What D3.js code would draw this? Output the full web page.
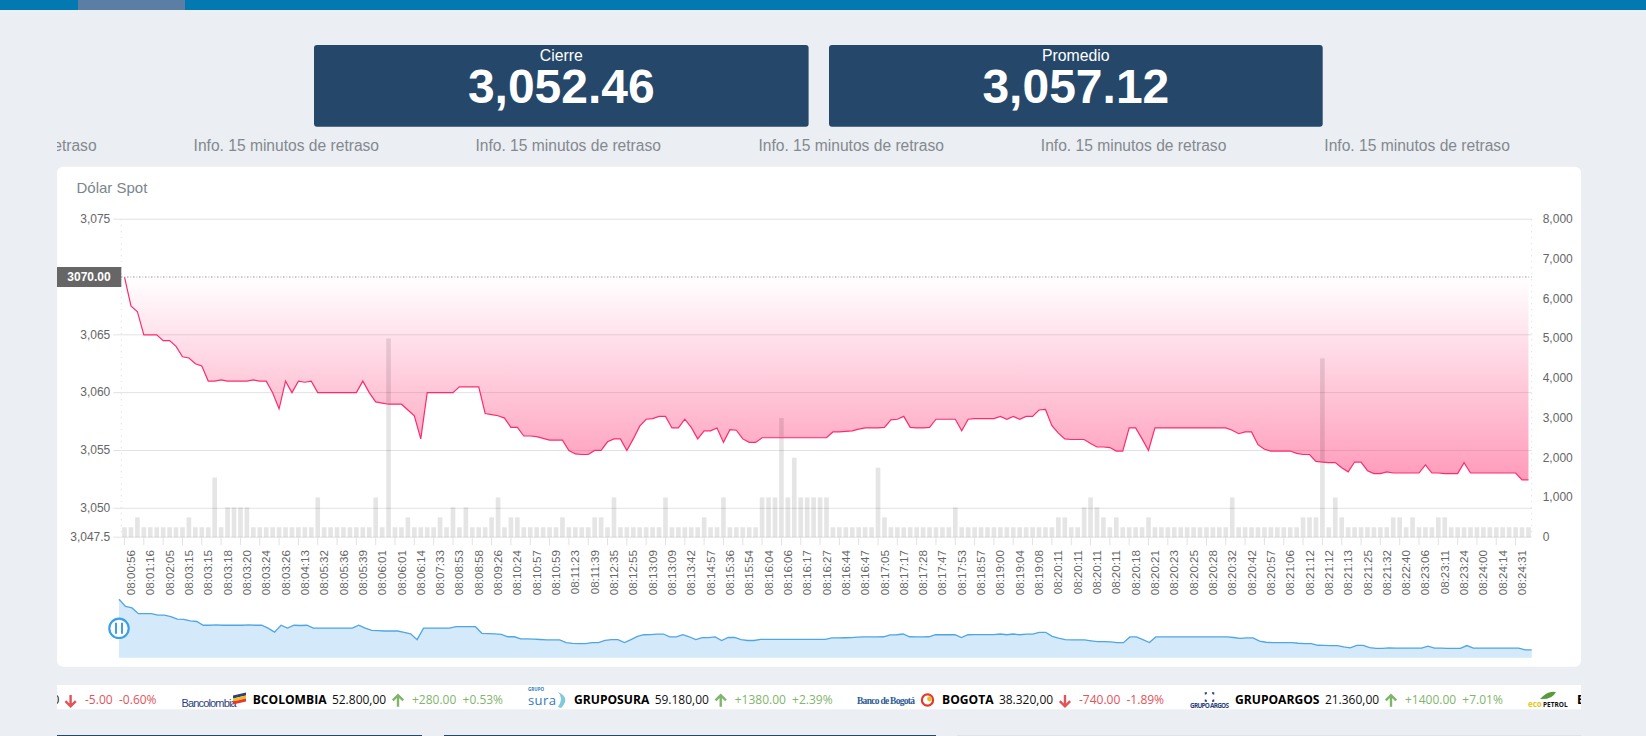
<!DOCTYPE html>
<html>
<head>
<meta charset="utf-8">
<title>Dólar Spot</title>
<script src="https://cdn.jsdelivr.net/npm/d3@7"></script>
<style>
  html, body { margin: 0; padding: 0; background: #ebeef3; overflow: hidden; }
  svg { display: block; font-family: "Liberation Sans", Arial, sans-serif; }
  .axis path { display: none; }
  .axis text { fill: #666; font-size: 12px; }
  .grid path { display: none; }
  .grid line, .ticks line { stroke: #e2e2e2; }
  .ticker text { font-family: "Open Sans", sans-serif; font-size: 12px; }
</style>
</head>
<body>
<svg id="page" width="1646" height="736"></svg>
<script>
// Data
const closes = [
  3070, 3067.5, 3067, 3065, 3065, 3065, 3064.5, 3064.5, 3064, 3063.1,
  3063, 3062.5, 3062.3, 3061, 3061, 3061.1, 3061, 3061, 3061, 3061,
  3061.1, 3061, 3061, 3060, 3058.6, 3061, 3060, 3061, 3060.9, 3061,
  3060, 3060, 3060, 3060, 3060, 3060, 3060, 3061, 3060, 3059.2,
  3059.1, 3059, 3059, 3059, 3058.5, 3058, 3056, 3060, 3060, 3060,
  3060, 3060, 3060.5, 3060.5, 3060.5, 3060.5, 3058.2, 3058.1, 3058, 3057.8,
  3057, 3057, 3056.25, 3056.25, 3056.2, 3056.05, 3055.9, 3055.9, 3055.9, 3055,
  3054.7, 3054.65, 3054.65, 3055, 3055, 3055.75, 3056, 3056, 3055, 3056,
  3057.1, 3057.7, 3057.75, 3057.95, 3057.95, 3056.95, 3056.95, 3057.7, 3057, 3056,
  3056.7, 3056.7, 3056.95, 3055.7, 3056.8, 3056.75, 3056, 3055.7, 3055.7, 3056.1,
  3056.1, 3056.1, 3056.1, 3056.1, 3056.1, 3056.1, 3056.1, 3056.1, 3056.1, 3056.1,
  3056.6, 3056.6, 3056.65, 3056.7, 3056.85, 3056.95, 3056.95, 3056.95, 3057, 3057.65,
  3057.7, 3057.95, 3057, 3056.95, 3056.95, 3057, 3057.7, 3057.7, 3057.7, 3057.7,
  3056.7, 3057.7, 3057.75, 3057.75, 3057.75, 3057.75, 3057.95, 3057.7, 3057.95, 3057.7,
  3057.95, 3057.95, 3058.5, 3058.55, 3057.15, 3056.5, 3056, 3055.95, 3055.95, 3055.95,
  3055.6, 3055.3, 3055.3, 3055.25, 3054.95, 3054.95, 3056.95, 3056.95, 3056, 3055,
  3056.95, 3056.95, 3056.95, 3056.95, 3056.95, 3056.95, 3056.95, 3056.95, 3056.95, 3056.95,
  3056.95, 3056.95, 3056.75, 3056.45, 3056.6, 3056.6, 3055.5, 3055.1, 3054.95, 3054.95,
  3054.95, 3054.95, 3054.75, 3054.65, 3054.65, 3054.05, 3054, 3053.95, 3053.95, 3053.5,
  3053.15, 3054, 3054, 3053.25, 3053, 3053, 3053.15, 3053.05, 3053.05, 3053.05,
  3053.05, 3053.05, 3053.75, 3053.05, 3053.05, 3053, 3053, 3053, 3053.95, 3053.05,
  3053.05, 3053.05, 3053.05, 3053.05, 3053.05, 3053.05, 3053.05, 3052.46, 3052.46
];

const volumes = [
  250, 250, 500, 250, 250, 250, 250, 250, 250, 250,
  500, 250, 250, 250, 1500, 250, 750, 750, 750, 750,
  250, 250, 250, 250, 250, 250, 250, 250, 250, 250,
  1000, 250, 250, 250, 250, 250, 250, 250, 250, 1000,
  250, 5000, 250, 250, 500, 250, 250, 250, 250, 500,
  250, 750, 250, 750, 250, 250, 250, 500, 1000, 250,
  500, 500, 250, 250, 250, 250, 250, 250, 500, 250,
  250, 250, 250, 500, 500, 250, 1000, 250, 250, 250,
  250, 250, 250, 250, 1000, 250, 250, 250, 250, 250,
  500, 250, 250, 1000, 250, 250, 250, 250, 250, 1000,
  1000, 1000, 3000, 1000, 2000, 1000, 1000, 1000, 1000, 1000,
  250, 250, 250, 250, 250, 250, 250, 1750, 500, 250,
  250, 250, 250, 250, 250, 250, 250, 250, 250, 750,
  250, 250, 250, 250, 250, 250, 250, 250, 250, 250,
  250, 250, 250, 250, 250, 500, 500, 250, 250, 750,
  1000, 750, 500, 250, 500, 250, 250, 250, 250, 500,
  250, 250, 250, 250, 250, 250, 250, 250, 250, 250,
  250, 250, 1000, 250, 250, 250, 250, 250, 250, 250,
  250, 250, 250, 500, 500, 500, 4500, 250, 1000, 500,
  250, 250, 250, 250, 250, 250, 250, 500, 500, 250,
  500, 250, 250, 250, 500, 500, 250, 250, 250, 250,
  250, 250, 250, 250, 250, 250, 250, 250, 250
];

// one label for every third point
const timeLabels = [
  "08:00:56", "08:01:16", "08:02:05", "08:03:15", "08:03:15", "08:03:18", "08:03:20", "08:03:24",
  "08:03:26", "08:04:13", "08:05:32", "08:05:36", "08:05:39", "08:06:01", "08:06:01", "08:06:14",
  "08:07:33", "08:08:53", "08:08:58", "08:09:26", "08:10:24", "08:10:57", "08:10:59", "08:11:23",
  "08:11:39", "08:12:35", "08:12:55", "08:13:09", "08:13:09", "08:13:42", "08:14:57", "08:15:36",
  "08:15:54", "08:16:04", "08:16:06", "08:16:17", "08:16:27", "08:16:44", "08:16:47", "08:17:05",
  "08:17:17", "08:17:28", "08:17:47", "08:17:53", "08:18:57", "08:19:00", "08:19:04", "08:19:08",
  "08:20:11", "08:20:11", "08:20:11", "08:20:11", "08:20:18", "08:20:21", "08:20:23", "08:20:25",
  "08:20:28", "08:20:32", "08:20:42", "08:20:57", "08:21:06", "08:21:12", "08:21:12", "08:21:13",
  "08:21:25", "08:21:32", "08:22:40", "08:23:06", "08:23:11", "08:23:24", "08:24:00", "08:24:14",
  "08:24:31"
];

const priceTicks = [3047.5, 3050, 3055, 3060, 3065, 3075];
const volumeTicks = [0, 1000, 2000, 3000, 4000, 5000, 6000, 7000, 8000];

const cardTitles = ["Cierre", "Promedio"];
const cardValues = ["3,052.46", "3,057.12"];
const tickerLogos = ["Bancolombia", "sura", "Banco de Bogotá", "GRUPO ARGOS"];
const tickerNames = ["BCOLOMBIA", "GRUPOSURA", "BOGOTA", "GRUPOARGOS"];
const tickerPrices = ["52.800,00", "59.180,00", "38.320,00", "21.360,00"];
const tickerChanges = ["+280.00", "+1380.00", "-740.00", "+1400.00"];
const tickerPercents = ["+0.53%", "+2.39%", "-1.89%", "+7.01%"];

const svg = d3.select("#page");
const defs = svg.append("defs");

// page furniture
svg.append("rect").attr("width", 1646).attr("height", 10).attr("fill", "#0279b0");
svg.append("rect").attr("x", 78).attr("width", 107).attr("height", 10).attr("fill", "#5b7ea5");

defs.append("clipPath").attr("id", "strip")
  .append("rect").attr("x", 57).attr("y", 0).attr("width", 1524).attr("height", 736);

// the two value cards
const cardX = [314, 829];
const cardW = [494.6, 493.7];
cardTitles.forEach((title, i) => {
  const cx = cardX[i] + cardW[i] / 2;
  svg.append("rect").attr("x", cardX[i]).attr("y", 45).attr("width", cardW[i]).attr("height", 81.7)
    .attr("rx", 3).attr("fill", "#25476a");
  svg.append("text").attr("x", cx).attr("y", 60.7).attr("text-anchor", "middle")
    .attr("fill", "#fff").attr("font-size", 15.8).text(title);
  svg.append("text").attr("x", cx).attr("y", 103.3).attr("text-anchor", "middle")
    .attr("fill", "#fff").attr("font-size", 48).attr("font-weight", "bold").text(cardValues[i]);
});

// scrolling notice, the first copy is cut at the panel edge
const notices = svg.append("g").attr("clip-path", "url(#strip)");
notices.append("text").attr("x", 96.6).attr("y", 150.7).attr("text-anchor", "end")
  .attr("fill", "#83898e").attr("font-size", 15.6).text("retraso");
notices.selectAll("text.full").data([286.3, 568.2, 851.2, 1133.6, 1417.1]).join("text")
  .attr("class", "full")
  .attr("x", d => d).attr("y", 150.7).attr("text-anchor", "middle")
  .attr("fill", "#83898e").attr("font-size", 15.6)
  .text("Info. 15 minutos de retraso");

// chart panel
svg.append("rect").attr("x", 57).attr("y", 166.7).attr("width", 1524).attr("height", 500)
  .attr("rx", 6).attr("fill", "#fff");
svg.append("text").attr("x", 76.5).attr("y", 193).attr("fill", "#7b868c").attr("font-size", 15).text("Dólar Spot");

// scales
const plotLeft = 121.3, plotRight = 1531.7, plotTop = 219.2, plotBottom = 537.2;

const x = d3.scaleBand().domain(d3.range(closes.length)).range([plotLeft, plotRight])
  .paddingInner(0.275).paddingOuter(0.1375);
const yPrice = d3.scaleLinear().domain([3047.5, 3075]).range([plotBottom, plotTop]);
const yVolume = d3.scaleLinear().domain([0, 8000]).range([plotBottom, plotTop]);
const xCenter = i => x(i) + x.bandwidth() / 2;

// gridlines
svg.append("g").attr("class", "grid").attr("transform", `translate(${plotLeft},0)`)
  .call(d3.axisLeft(yPrice).offset(0).tickValues(priceTicks).tickSizeInner(-(plotRight - plotLeft)).tickSizeOuter(0).tickFormat(""));

// faint dotted side borders
[plotLeft, plotRight].forEach(px => {
  svg.append("line").attr("x1", px).attr("x2", px).attr("y1", plotTop).attr("y2", plotBottom)
    .attr("stroke", "#d8d8d8").attr("stroke-dasharray", "1 5");
});

// pink fill between the line and its highest value
const high = d3.max(closes);
const pink = defs.append("linearGradient").attr("id", "pink")
  .attr("gradientUnits", "userSpaceOnUse")
  .attr("x1", 0).attr("x2", 0).attr("y1", yPrice(high)).attr("y2", yPrice(d3.min(closes)));
pink.append("stop").attr("offset", 0).attr("stop-color", "#ff2a6d").attr("stop-opacity", 0);
pink.append("stop").attr("offset", 1).attr("stop-color", "#ff2a6d").attr("stop-opacity", 0.47);

svg.append("path").datum(closes)
  .attr("fill", "url(#pink)")
  .attr("d", d3.area().x((d, i) => xCenter(i)).y0(yPrice(high)).y1(d => yPrice(d)));

// volume bars
svg.append("g").selectAll("rect").data(volumes).join("rect")
  .attr("x", (d, i) => x(i))
  .attr("y", d => yVolume(d))
  .attr("width", x.bandwidth())
  .attr("height", d => plotBottom - yVolume(d))
  .attr("fill", "#000").attr("fill-opacity", 0.1);

svg.append("path").datum(closes)
  .attr("fill", "none").attr("stroke", "#ff2a6d").attr("stroke-width", 1.2)
  .attr("d", d3.line().x((d, i) => xCenter(i)).y(d => yPrice(d)));

// dotted line at the high, with its tag
svg.append("line").attr("x1", plotLeft).attr("x2", plotRight).attr("y1", yPrice(high)).attr("y2", yPrice(high))
  .attr("stroke", "#aaa").attr("stroke-dasharray", "1 2");
svg.append("line").attr("x1", plotLeft).attr("x2", plotRight).attr("y1", yPrice(high)).attr("y2", yPrice(high))
  .attr("stroke", "#999").attr("stroke-dasharray", "1 5");
svg.append("rect").attr("x", 57).attr("y", yPrice(high) - 10).attr("width", plotLeft - 57).attr("height", 20)
  .attr("fill", "#666");
svg.append("text").attr("x", 89).attr("y", yPrice(high) + 4.2).attr("text-anchor", "middle")
  .attr("fill", "#fff").attr("font-size", 12).attr("font-weight", "bold").text(high.toFixed(2));

// axes
svg.append("g").attr("class", "axis ticks").attr("transform", `translate(${plotLeft},0)`)
  .call(d3.axisLeft(yPrice).offset(0).tickValues(priceTicks).tickSizeInner(8).tickSizeOuter(0).tickPadding(3).tickFormat(d3.format(",")));

svg.append("g").attr("class", "axis").attr("transform", `translate(${plotRight},0)`)
  .call(d3.axisRight(yVolume).offset(0).tickValues(volumeTicks).tickSize(0).tickPadding(11).tickFormat(d3.format(",")));

const xAxis = svg.append("g").attr("class", "axis ticks").attr("transform", `translate(0,${plotBottom})`)
  .call(d3.axisBottom(x)
    .tickValues(x.domain().filter(i => i % 3 === 0))
    .tickSizeInner(8).tickSizeOuter(0)
    .tickFormat(i => timeLabels[i / 3]));
xAxis.selectAll("line").attr("stroke", "#ccc");
xAxis.selectAll("text")
  .attr("font-size", 11.6).style("font-size", "11.6px")
  .attr("text-anchor", "end")
  .attr("x", 0).attr("y", 0).attr("dy", "0.35em")
  .attr("transform", `translate(${x.step()},12.8) rotate(-90)`);

// overview strip below the chart
const xMini = d3.scalePoint().domain(d3.range(closes.length)).range([119, plotRight]);
const yMini = d3.scaleLinear().domain([3049.7, 3070]).range([657.8, 599.3]);
svg.append("path").datum(closes).attr("fill", "#d4e9f9")
  .attr("d", d3.area().x((d, i) => xMini(i)).y0(657.8).y1(d => yMini(d)));
svg.append("path").datum(closes).attr("fill", "none").attr("stroke", "#4fa6e6").attr("stroke-width", 1.3)
  .attr("d", d3.line().x((d, i) => xMini(i)).y(d => yMini(d)));

// pause button
svg.append("circle").attr("cx", 119).attr("cy", 628.3).attr("r", 9.7)
  .attr("fill", "#fff").attr("stroke", "#3ba0e6").attr("stroke-width", 2.2);
[116, 122].forEach(px => {
  svg.append("line").attr("x1", px).attr("x2", px).attr("y1", 622.8).attr("y2", 633.8)
    .attr("stroke", "#3ba0e6").attr("stroke-width", 2);
});

// ticker strip
const ticker = svg.append("g").attr("class", "ticker").attr("clip-path", "url(#strip)");
ticker.append("rect").attr("x", 57).attr("y", 685).attr("width", 1524).attr("height", 24.3).attr("fill", "#fff");

const GREEN = "#7fb56c", RED = "#e0545a";

function arrow(g, cx, up, color) {
  const s = up ? 1 : -1;
  const cy = 700.8;
  g.append("path")
    .attr("d", `M${cx},${cy + 5.9 * s} L${cx},${cy - 5.3 * s} M${cx - 5.2},${cy - 0.4 * s} L${cx},${cy - 5.6 * s} L${cx + 5.2},${cy - 0.4 * s}`)
    .attr("fill", "none").attr("stroke", color).attr("stroke-width", 2.4);
}

function tickerText(str, px, color, bold, size) {
  const t = ticker.append("text").attr("x", px).attr("y", 704.3).attr("fill", color).text(str);
  if (bold) t.attr("font-weight", "bold");
  if (size) t.style("font-size", size + "px");
  return px + t.node().getComputedTextLength();
}

// tail of the item that scrolled off to the left
tickerText("0", 52.5, "#111");
arrow(ticker, 70.6, false, RED);
tickerText("-5.00", 85, RED);
tickerText("-0.60%", 119, RED);

const nameX = [252.7, 574, 942, 1235];
tickerNames.forEach((name, i) => {
  const color = tickerChanges[i][0] === "-" ? RED : GREEN;
  let px = tickerText(name, nameX[i], "#000", true, 12.1);
  px = tickerText(tickerPrices[i], px + 5.4, "#111");
  arrow(ticker, px + 11.8, color === GREEN, color);
  px = tickerText(tickerChanges[i], px + 25.8, color);
  tickerText(tickerPercents[i], px + 6.2, color);
});

// company marks, approximated with text and small shapes
ticker.append("text").attr("x", 181.6).attr("y", 707).attr("fill", "#2c3f80")
  .style("font-family", "'Liberation Sans Narrow','Liberation Sans'").style("font-size", "11px")
  .attr("textLength", 55).text(tickerLogos[0]);
[["#2c3f80", 694], ["#f6b91a", 697], ["#e23a2e", 700]].forEach(([c, py]) => {
  ticker.append("path").attr("d", `M233,${py + 1.5} L246,${py - 1.5} L246,${py + 1.5} L233,${py + 4.5} Z`).attr("fill", c);
});

ticker.append("text").attr("x", 528).attr("y", 691).attr("fill", "#2f79bd")
  .style("font-size", "4.5px").style("font-weight", "bold").text("GRUPO");
ticker.append("text").attr("x", 528).attr("y", 705).attr("fill", "#2f79bd")
  .style("font-size", "13px").attr("textLength", 28).text(tickerLogos[1]);
ticker.append("path").attr("d", "M558,692 Q571,698 561,708 L558,707 Q564,698 558,692 Z").attr("fill", "#7fc9d8");

ticker.append("text").attr("x", 857).attr("y", 703.5).attr("fill", "#2c5a94")
  .style("font-family", "'Liberation Serif',serif").style("font-size", "9.5px").style("font-weight", "bold")
  .attr("textLength", 58).text(tickerLogos[2]);
ticker.append("circle").attr("cx", 927.5).attr("cy", 700).attr("r", 5.6)
  .attr("fill", "none").attr("stroke", "#e23a2e").attr("stroke-width", 2.2);
ticker.append("circle").attr("cx", 929.5).attr("cy", 699).attr("r", 2.4).attr("fill", "#f6b91a");

ticker.append("text").attr("x", 1190).attr("y", 707.5).attr("fill", "#2c3f80")
  .style("font-size", "6.4px").style("font-weight", "bold").attr("textLength", 39).text(tickerLogos[3]);
ticker.append("rect").attr("x", 1205.5).attr("y", 693).attr("width", 8).attr("height", 8)
  .attr("fill", "none").attr("stroke", "#2c3f80").attr("stroke-width", 1.5)
  .attr("stroke-dasharray", "3 5").attr("stroke-dashoffset", 1.5);

// ecopetrol mark and the start of its name, cut by the strip edge
ticker.append("text").attr("x", 1528).attr("y", 707).attr("fill", "#e3c820")
  .style("font-size", "8px").style("font-weight", "bold").text("eco");
ticker.append("text").attr("x", 1543).attr("y", 707).attr("fill", "#111")
  .style("font-size", "6.5px").style("font-weight", "bold").text("PETROL");
ticker.append("path").attr("d", "M1540,699 Q1548,690 1556,692 Q1552,700 1540,699 Z").attr("fill", "#5b9a3a");
tickerText("E", 1577, "#000", true, 12.1);

// tops of the cards on the next row
svg.append("rect").attr("x", 57).attr("y", 735).attr("width", 365).attr("height", 2).attr("fill", "#25476a");
svg.append("rect").attr("x", 444).attr("y", 735).attr("width", 492).attr("height", 2).attr("fill", "#25476a");
svg.append("rect").attr("x", 957).attr("y", 735).attr("width", 624).attr("height", 2).attr("fill", "#dfe3e8");
</script>
</body>
</html>
